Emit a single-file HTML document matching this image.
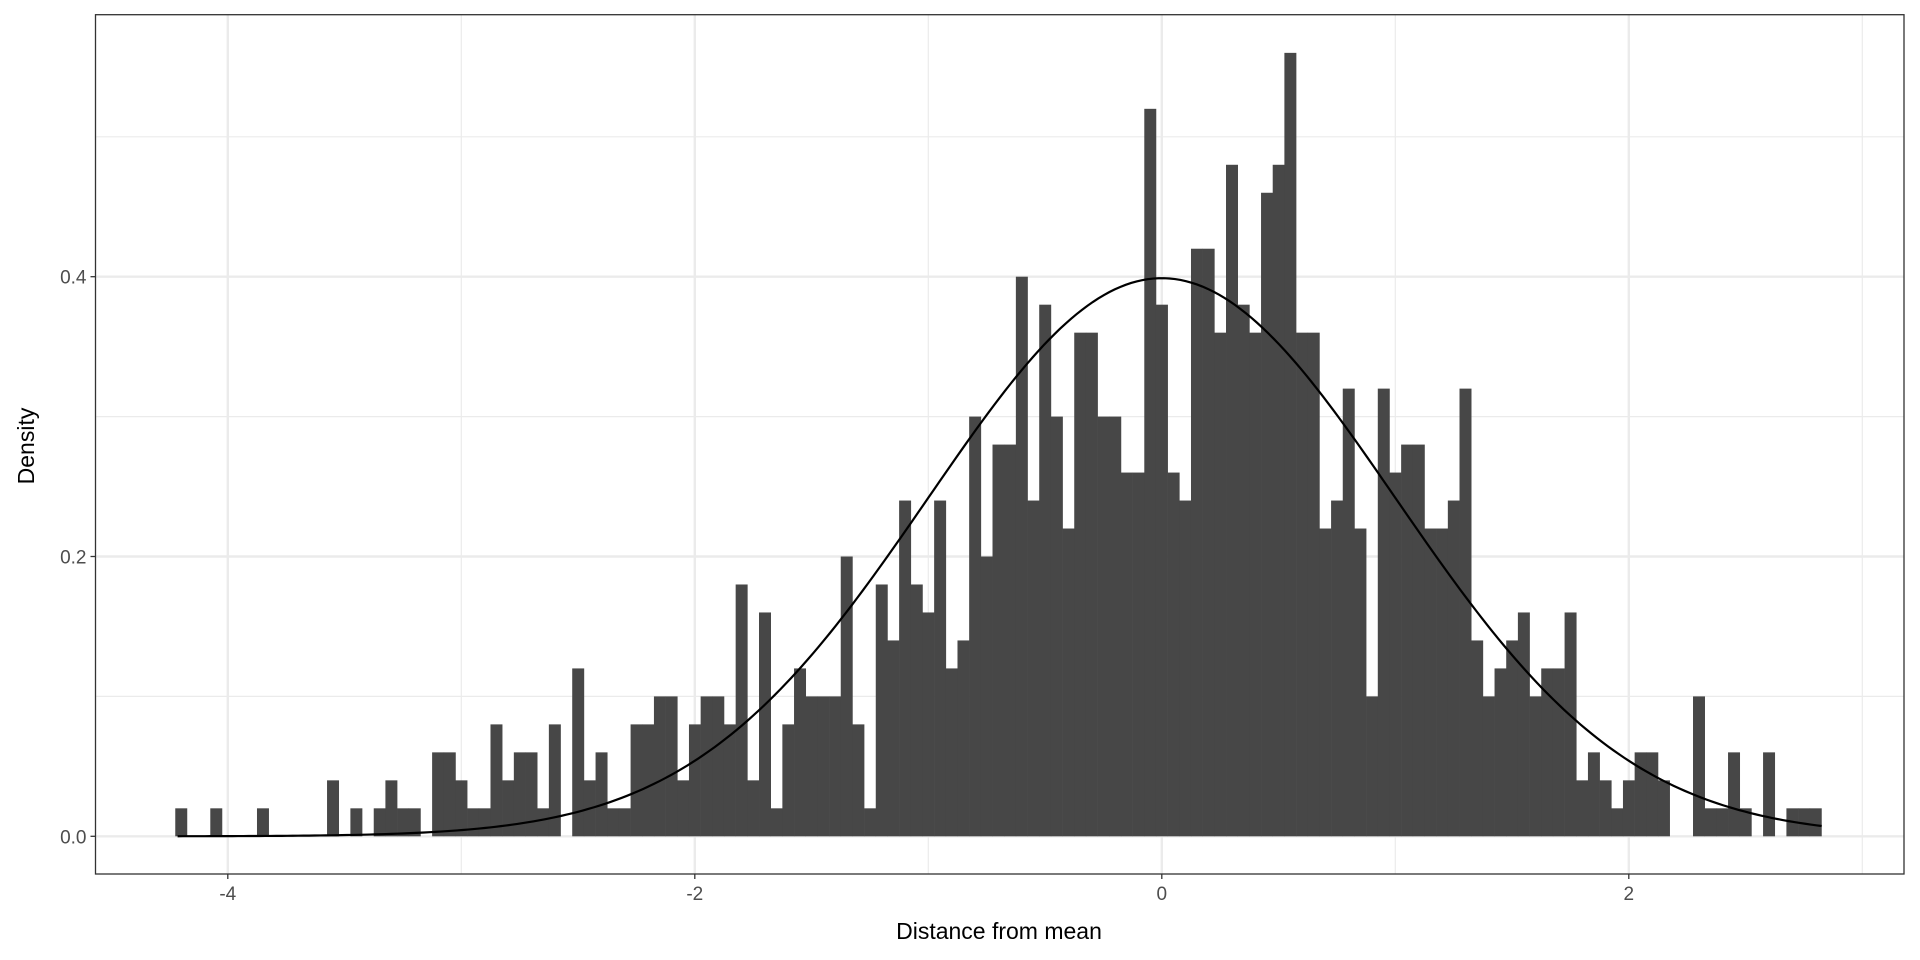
<!DOCTYPE html>
<html><head><meta charset="utf-8"><style>
html,body{margin:0;padding:0;background:#fff;}
svg{display:block;}
text{font-family:"Liberation Sans",Arial,sans-serif;}
</style></head>
<body>
<svg id="chart" width="1920" height="960" viewBox="0 0 1920 960" xmlns="http://www.w3.org/2000/svg">
<rect x="0" y="0" width="1920" height="960" fill="#fff"/>
<g id="grid"></g>
<g id="bars"></g>
<g id="curve"></g>
<rect x="95.5" y="14.7" width="1808.5" height="859.3" fill="none" stroke="#333" stroke-width="1.3"/>
<g id="axes"></g>
<text x="999" y="939" text-anchor="middle" font-size="23" fill="#000">Distance from mean</text>
<text transform="translate(34,446) rotate(-90)" text-anchor="middle" font-size="23" fill="#000">Density</text>
</svg>
<script>
// data
const binStart = -4.225;
const binWidth = 0.05;
const nObs = 1000;
const counts = [1,0,0,1,0,0,0,1,0,0,0,0,0,2,0,1,0,1,2,1,1,0,3,3,2,1,1,4,2,3,3,1,4,0,6,
2,3,1,1,4,4,5,5,2,4,5,5,4,9,2,8,1,4,6,5,5,5,10,4,1,9,7,
12,9,8,12,6,7,15,10,14,14,20,12,19,15,11,18,18,15,15,13,13,26,19,13,12,21,21,18,
24,19,18,23,24,28,18,18,11,12,16,11,5,16,13,14,14,11,11,12,16,7,5,6,7,8,5,6,
6,8,2,3,2,1,2,3,3,2,0,0,5,1,1,3,1,0,3,0,1,1,1];
const xTicks = [-4,-2,0,2];
const xTickLabels = ["-4","-2","0","2"];
const xMinor = [-3,-1,1,3];
const yTicks = [0,0.2,0.4];
const yTickLabels = ["0.0","0.2","0.4"];
const yMinor = [0.1,0.3,0.5];
const curveMean = 0, curveSd = 1, curveFrom = -4.215, curveTo = 2.826;

const NS = "http://www.w3.org/2000/svg";
const X0 = 1161.8, XU = 233.5, Y0 = 836.3, YU = 1399;
const PL = 95.5, PR = 1904, PT = 14.7, PB = 874;
function xs(v){ return X0 + v*XU; }
function ys(v){ return Y0 - v*YU; }
function mk(tag, attrs, parent){
  const e = document.createElementNS(NS, tag);
  for (const k in attrs) e.setAttribute(k, attrs[k]);
  parent.appendChild(e); return e;
}
const grid = document.getElementById('grid');
yMinor.forEach(v=>{ const l=mk('line',{x1:PL,x2:PR,y1:ys(v),y2:ys(v),stroke:'#ebebeb','stroke-width':1.2},grid);

 });
xMinor.forEach(v=>{ const l=mk('line',{x1:xs(v),x2:xs(v),y1:PT,y2:PB,stroke:'#ebebeb','stroke-width':1.2},grid);

 });
yTicks.forEach(v=>{ const l=mk('line',{x1:PL,x2:PR,y1:ys(v),y2:ys(v),stroke:'#ebebeb','stroke-width':2.4},grid);

 });
xTicks.forEach(v=>{ const l=mk('line',{x1:xs(v),x2:xs(v),y1:PT,y2:PB,stroke:'#ebebeb','stroke-width':2.4},grid);

 });

const bars = document.getElementById('bars');
counts.forEach((c,i)=>{
  if (c<=0) return;
  const d = c/(nObs*binWidth);
  const x1 = xs(binStart+i*binWidth), x2 = xs(binStart+(i+1)*binWidth);
  const r = mk('rect',{x:x1,y:ys(d),width:x2-x1+0.3,height:ys(0)-ys(d),fill:'#474747'},bars);
  
  
});

const cg = document.getElementById('curve');
let pts=[];
for(let k=0;k<=300;k++){
  const x = curveFrom + (curveTo-curveFrom)*k/300;
  const z=(x-curveMean)/curveSd;
  const y = Math.exp(-0.5*z*z)/(curveSd*Math.sqrt(2*Math.PI));
  pts.push(xs(x).toFixed(2)+','+ys(y).toFixed(2));
}
const pl = mk('polyline',{points:pts.join(' '),fill:'none',stroke:'#000','stroke-width':2.2},cg);



const axes = document.getElementById('axes');
xTicks.forEach((v,i)=>{
  const t=mk('line',{x1:xs(v),x2:xs(v),y1:PB,y2:PB+5,stroke:'#333','stroke-width':1.3},axes);
  
  
  const tx=mk('text',{x:xs(v),y:PB+26,'text-anchor':'middle','font-size':19,fill:'#4d4d4d'},axes);
  tx.textContent=xTickLabels[i];
  
  
});
yTicks.forEach((v,i)=>{
  const t=mk('line',{x1:PL-5,x2:PL,y1:ys(v),y2:ys(v),stroke:'#333','stroke-width':1.3},axes);
  
  
  const tx=mk('text',{x:PL-9,y:ys(v)+7,'text-anchor':'end','font-size':19,fill:'#4d4d4d'},axes);
  tx.textContent=yTickLabels[i];
  
  
});
</script>
</body></html>
